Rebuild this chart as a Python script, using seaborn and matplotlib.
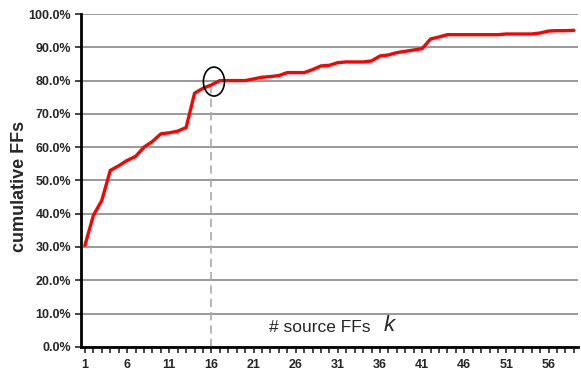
import numpy as np
import pandas as pd
import seaborn as sns
import matplotlib.pyplot as plt
from matplotlib.patches import Ellipse
from matplotlib.ticker import FixedLocator, PercentFormatter

# number of source FFs k and cumulative share of FFs (%)
k_values = list(range(1, 60))
cumulative_pct = [30.5, 39.5, 44.0, 53.0, 54.4, 56.0, 57.2, 60.0, 61.7, 64.0,
                  64.3, 64.8, 65.9, 76.2, 77.7, 78.7, 80.0, 80.0, 80.0, 80.0,
                  80.5, 81.0, 81.2, 81.5, 82.4, 82.4, 82.4, 83.3, 84.4, 84.6,
                  85.4, 85.6, 85.6, 85.6, 85.9, 87.4, 87.7, 88.4, 88.8, 89.2,
                  89.6, 92.5, 93.1, 93.8, 93.8, 93.8, 93.8, 93.8, 93.8, 93.8,
                  94.0, 94.0, 94.0, 94.0, 94.3, 94.9, 95.0, 95.0, 95.1]
x_tick_labels = [1, 6, 11, 16, 21, 26, 31, 36, 41, 46, 51, 56]
y_ticks = [0, 10, 20, 30, 40, 50, 60, 70, 80, 90, 100]
marked_k = 16

df = pd.DataFrame({"k": k_values, "cum": np.array(cumulative_pct) / 100})

sns.set_style("white")
plt.rcParams['font.family'] = ['Liberation Sans', 'DejaVu Sans']

fig = plt.figure(figsize=(5.81, 3.79), dpi=100)
ax = fig.add_axes([0.139, 0.085, 0.856, 0.878])

for v in y_ticks:
    ax.axhline(v / 100, color="#999999", lw=1.4, zorder=0)

sns.lineplot(data=df, x="k", y="cum", color="#ff0000", lw=2.4, ax=ax, zorder=3)

# marker at k = 16
mk_val = df.loc[df.k == marked_k, "cum"].iloc[0]
ax.plot([marked_k, marked_k], [0, mk_val + 0.01], color="#aaaaaa", lw=1.2,
        ls=(0, (5, 3)), zorder=2)
ax.add_patch(Ellipse((marked_k + 0.3, 0.797), 2.5, 0.087, fill=False,
                     ec="black", lw=1.2, zorder=4))

ax.set_xlim(0.5, 59.5)
ax.set_ylim(0, 1.0)
ax.xaxis.set_major_locator(FixedLocator(x_tick_labels))
ax.xaxis.set_minor_locator(FixedLocator(k_values))
ax.set_yticks([v / 100 for v in y_ticks])
ax.yaxis.set_major_formatter(PercentFormatter(1.0, decimals=1))

for side in ["top", "right"]:
    ax.spines[side].set_visible(False)
for side in ["left", "bottom"]:
    ax.spines[side].set_linewidth(2.0)
    ax.spines[side].set_color("black")

ax.tick_params(axis="x", which="both", direction="out", length=4, width=1.2,
               bottom=True, pad=5)
ax.tick_params(axis="y", direction="out", length=4, width=1.2, left=True, pad=3)
for lab in ax.get_xticklabels() + ax.get_yticklabels():
    lab.set_fontweight("bold")
    lab.set_fontsize(9)

ax.set_xlabel("")
ax.set_ylabel("")
fig.text(20 / 581, 1 - 186 / 379, "cumulative FFs", fontsize=13, fontweight="bold",
         rotation=90, ha="center", va="center")
ax.text(22.8, 0.058, "# source FFs", fontsize=12.5, ha="left", va="center")
ax.text(36.4, 0.065, "k", fontsize=16, style="italic", ha="left", va="center")

fig.savefig("out.png", dpi=100)
